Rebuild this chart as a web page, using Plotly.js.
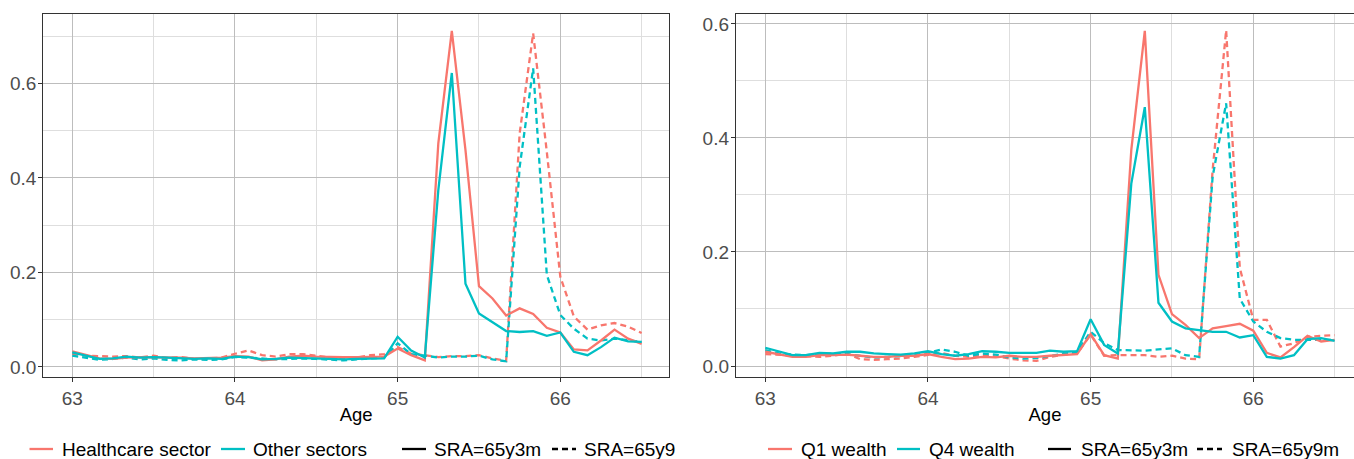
<!DOCTYPE html>
<html>
<head>
<meta charset="utf-8">
<script src="https://cdn.plot.ly/plotly-3.0.1.min.js"></script>
<style>
  html, body { margin: 0; padding: 0; background: #ffffff; }
  #chart { width: 1354px; height: 459px; }
</style>
</head>
<body>
<div id="chart"></div>
<script>
// Age in years (monthly steps)
const ages = [63.000, 63.083, 63.167, 63.250, 63.333, 63.417, 63.500, 63.583, 63.667, 63.750, 63.833, 63.917,
              64.000, 64.083, 64.167, 64.250, 64.333, 64.417, 64.500, 64.583, 64.667, 64.750, 64.833, 64.917,
              65.000, 65.083, 65.167, 65.250, 65.333, 65.417, 65.500, 65.583, 65.667, 65.750, 65.833, 65.917,
              66.000, 66.083, 66.167, 66.250, 66.333, 66.417, 66.500];

// Left panel: sector
const healthSRA3 = [0.033, 0.025, 0.018, 0.017, 0.020, 0.021, 0.021, 0.020, 0.020, 0.018, 0.019, 0.020,
                    0.023, 0.022, 0.014, 0.016, 0.022, 0.024, 0.022, 0.021, 0.021, 0.021, 0.021, 0.022,
                    0.039, 0.025, 0.014, 0.473, 0.711, 0.459, 0.171, 0.145, 0.109, 0.124, 0.112, 0.083,
                    0.073, 0.037, 0.035, 0.056, 0.079, 0.060, 0.049];
const otherSRA3  = [0.031, 0.024, 0.017, 0.018, 0.022, 0.020, 0.021, 0.020, 0.019, 0.017, 0.018, 0.017,
                    0.022, 0.021, 0.016, 0.017, 0.020, 0.019, 0.019, 0.018, 0.016, 0.017, 0.018, 0.018,
                    0.064, 0.035, 0.020, 0.374, 0.622, 0.176, 0.113, 0.095, 0.076, 0.074, 0.076, 0.066,
                    0.073, 0.032, 0.025, 0.042, 0.062, 0.054, 0.053];
const healthSRA9 = [0.028, 0.024, 0.023, 0.022, 0.023, 0.020, 0.024, 0.019, 0.021, 0.017, 0.018, 0.020,
                    0.028, 0.035, 0.025, 0.022, 0.027, 0.027, 0.024, 0.020, 0.018, 0.020, 0.025, 0.027,
                    0.042, 0.028, 0.025, 0.021, 0.023, 0.023, 0.025, 0.018, 0.013, 0.494, 0.706, 0.455,
                    0.191, 0.107, 0.079, 0.088, 0.093, 0.085, 0.072];
const otherSRA9  = [0.024, 0.020, 0.015, 0.017, 0.020, 0.016, 0.018, 0.015, 0.014, 0.016, 0.015, 0.016,
                    0.021, 0.020, 0.018, 0.016, 0.017, 0.018, 0.017, 0.015, 0.014, 0.016, 0.018, 0.020,
                    0.050, 0.027, 0.024, 0.020, 0.022, 0.022, 0.024, 0.016, 0.012, 0.423, 0.632, 0.195,
                    0.110, 0.081, 0.060, 0.056, 0.060, 0.056, 0.053];

// Right panel: wealth
const q1SRA3 = [0.025, 0.021, 0.016, 0.016, 0.019, 0.019, 0.020, 0.018, 0.016, 0.016, 0.018, 0.018,
                0.021, 0.016, 0.012, 0.013, 0.016, 0.015, 0.018, 0.016, 0.016, 0.018, 0.019, 0.021,
                0.056, 0.019, 0.013, 0.379, 0.588, 0.160, 0.091, 0.072, 0.049, 0.066, 0.070, 0.074,
                0.062, 0.023, 0.015, 0.033, 0.053, 0.043, 0.046];
const q4SRA3 = [0.032, 0.026, 0.019, 0.019, 0.023, 0.022, 0.025, 0.025, 0.022, 0.021, 0.020, 0.022,
                0.026, 0.021, 0.018, 0.021, 0.026, 0.025, 0.023, 0.023, 0.023, 0.027, 0.025, 0.026,
                0.082, 0.037, 0.022, 0.320, 0.454, 0.111, 0.078, 0.066, 0.063, 0.060, 0.060, 0.050,
                0.054, 0.016, 0.013, 0.019, 0.047, 0.049, 0.044];
const q1SRA9 = [0.021, 0.020, 0.018, 0.017, 0.016, 0.018, 0.022, 0.012, 0.011, 0.012, 0.013, 0.016,
                0.020, 0.023, 0.018, 0.016, 0.019, 0.017, 0.013, 0.010, 0.009, 0.016, 0.020, 0.022,
                0.055, 0.018, 0.019, 0.019, 0.019, 0.016, 0.018, 0.013, 0.012, 0.344, 0.589, 0.172,
                0.081, 0.081, 0.034, 0.040, 0.051, 0.053, 0.054];
const q4SRA9 = [0.028, 0.022, 0.020, 0.019, 0.021, 0.022, 0.021, 0.018, 0.015, 0.016, 0.017, 0.019,
                0.023, 0.029, 0.025, 0.018, 0.022, 0.020, 0.015, 0.013, 0.014, 0.018, 0.022, 0.025,
                0.060, 0.040, 0.028, 0.027, 0.027, 0.029, 0.031, 0.019, 0.016, 0.332, 0.461, 0.118,
                0.078, 0.060, 0.049, 0.046, 0.046, 0.047, 0.046];

const leftGroups  = ["Healthcare sector", "Other sectors"];
const rightGroups = ["Q1 wealth", "Q4 wealth"];
const sraLabelsLeft  = ["SRA=65y3m", "SRA=65y9"];
const sraLabelsRight = ["SRA=65y3m", "SRA=65y9m"];
const xTicks = [63, 64, 65, 66];
const yTicksLeft = [0.0, 0.2, 0.4, 0.6];
const yTicksRight = [0.0, 0.2, 0.4, 0.6];

const RED = "#F8766D", TEAL = "#00BFC4";
const LW = 2.3;
const DASH = "6px,4px";

function line(x, y, color, dash, xa, ya) {
  return {x: x, y: y, type: "scatter", mode: "lines", xaxis: xa, yaxis: ya,
          line: {color: color, width: LW, dash: dash}, showlegend: false, hoverinfo: "skip"};
}

const traces = [
  line(ages, healthSRA9, RED, DASH, "x", "y"),
  line(ages, otherSRA9, TEAL, DASH, "x", "y"),
  line(ages, healthSRA3, RED, "solid", "x", "y"),
  line(ages, otherSRA3, TEAL, "solid", "x", "y"),
  line(ages, q1SRA9, RED, DASH, "x2", "y2"),
  line(ages, q4SRA9, TEAL, DASH, "x2", "y2"),
  line(ages, q1SRA3, RED, "solid", "x2", "y2"),
  line(ages, q4SRA3, TEAL, "solid", "x2", "y2")
];

const FONT = "Liberation Sans, Arial, sans-serif";
const W = 1354, H = 459;

// Legend keys (layout positions in pixels, key drawn as a short line + label)
const legendEntries = [
  {label: leftGroups[0],     color: RED,       dash: "solid", x0: 29.5,  x1: 53,   tx: 60.5},
  {label: leftGroups[1],     color: TEAL,      dash: "solid", x0: 221,   x1: 245,  tx: 252},
  {label: sraLabelsLeft[0],  color: "#000000", dash: "solid", x0: 402,   x1: 426,  tx: 433},
  {label: sraLabelsLeft[1],  color: "#000000", dash: DASH,    x0: 552,   x1: 576,  tx: 583},
  {label: rightGroups[0],    color: RED,       dash: "solid", x0: 768,   x1: 792,  tx: 800},
  {label: rightGroups[1],    color: TEAL,      dash: "solid", x0: 897,   x1: 920,  tx: 928},
  {label: sraLabelsRight[0], color: "#000000", dash: "solid", x0: 1048,  x1: 1071, tx: 1080},
  {label: sraLabelsRight[1], color: "#000000", dash: DASH,    x0: 1197,  x1: 1222, tx: 1230.5}
];
const LEG_Y = 449;
const shapes = legendEntries.map(e => ({
  type: "line", xref: "paper", yref: "paper",
  x0: e.x0 / W, x1: e.x1 / W, y0: 1 - LEG_Y / H, y1: 1 - LEG_Y / H,
  line: {color: e.color, width: LW, dash: e.dash}
}));
const annotations = legendEntries.map(e => ({
  xref: "paper", yref: "paper", x: e.tx / W, y: 1 - LEG_Y / H,
  xanchor: "left", yanchor: "middle", showarrow: false, text: e.label,
  font: {family: FONT, size: 19, color: "#000000"}, borderpad: 0
}));

function xAxis(domain, range, anchor) {
  return {
    domain: domain, range: range, anchor: anchor,
    tickmode: "array", tickvals: xTicks, ticktext: xTicks.map(String),
    ticks: "outside", ticklen: 4, tickcolor: "#333333", tickwidth: 1,
    tickfont: {family: FONT, size: 19, color: "#4d4d4d"},
    showgrid: true, gridcolor: "#bdbdbd", gridwidth: 1,
    minor: {tick0: 63, dtick: 0.5, showgrid: true, gridcolor: "#dedede", gridwidth: 1, ticks: ""},
    zeroline: false, showline: true, linecolor: "#333333", linewidth: 1.2, mirror: true,
    title: {text: "Age", font: {family: FONT, size: 18.5, color: "#000000"}, standoff: 0}
  };
}
function yAxis(range, anchor, ticks) {
  return {
    domain: [1 - 377 / H, 1 - 14 / H], range: range, anchor: anchor,
    tickmode: "array", tickvals: ticks, ticktext: ticks.map(v => v.toFixed(1)),
    ticks: "outside", ticklen: 4, tickcolor: "#333333", tickwidth: 1,
    ticklabelstandoff: -2,
    tickfont: {family: FONT, size: 19, color: "#4d4d4d"},
    showgrid: true, gridcolor: "#bdbdbd", gridwidth: 1,
    minor: {tick0: 0, dtick: 0.1, showgrid: true, gridcolor: "#dedede", gridwidth: 1, ticks: ""},
    zeroline: false, showline: true, linecolor: "#333333", linewidth: 1.2, mirror: true
  };
}

const layout = {
  width: W, height: H,
  margin: {l: 0, r: 0, t: 0, b: 0},
  paper_bgcolor: "#ffffff", plot_bgcolor: "#ffffff",
  showlegend: false,
  xaxis: xAxis([43.3 / W, 669 / W], [62.822, 66.668], "y"),
  yaxis: yAxis([-0.0212, 0.7468], "x", yTicksLeft),
  xaxis2: xAxis([736 / W, 1], [62.82, 66.619], "y2"),
  yaxis2: yAxis([-0.0193, 0.6175], "x2", yTicksRight),
  shapes: shapes,
  annotations: annotations
};

Plotly.newPlot("chart", traces, layout, {displayModeBar: false, staticPlot: true});
</script>
</body>
</html>
